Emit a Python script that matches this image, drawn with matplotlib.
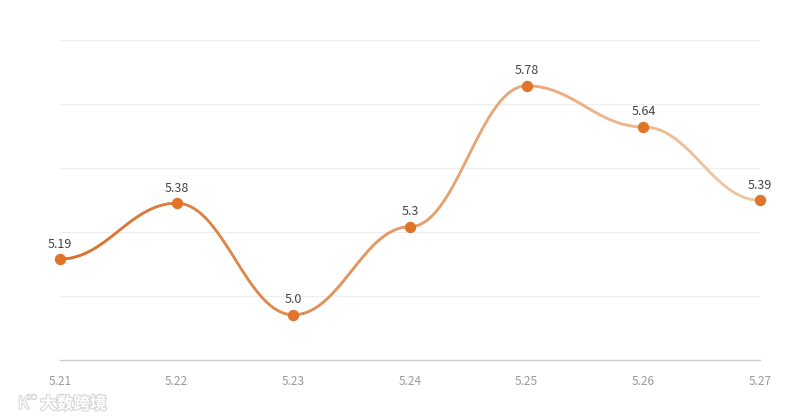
import numpy as np
import matplotlib
matplotlib.use("Agg")
import matplotlib.pyplot as plt
from matplotlib.collections import LineCollection
from matplotlib.patches import Ellipse
import matplotlib.patheffects as pe

plt.rcParams['font.family'] = ['Noto Sans CJK SC', 'DejaVu Sans']

categories = ["5.21", "5.22", "5.23", "5.24", "5.25", "5.26", "5.27"]
values = [5.19, 5.38, 5.0, 5.3, 5.78, 5.64, 5.39]
labels = ["5.19", "5.38", "5.0", "5.3", "5.78", "5.64", "5.39"]

W, H = 800, 420
fig = plt.figure(figsize=(8, 4.2), dpi=100)
L, R, T, B = 60, 760, 40, 360
ax = fig.add_axes([L / W, (H - B) / H, (R - L) / W, (B - T) / H])
ymin, ymax = 4.846, 5.936
ax.set_xlim(0, len(categories) - 1)
ax.set_ylim(ymin, ymax)

# smooth curve, horizontal tangents at the points (monotone-x style)
x = np.arange(len(values), dtype=float)
y = np.array(values, dtype=float)
smooth = 0.4
n = len(x)
curve = []
t = np.linspace(0, 1, 100)
for i in range(n - 1):
    dx = x[i + 1] - x[i]
    p0 = np.array([x[i], y[i]])
    c1 = np.array([x[i] + dx * smooth, y[i]])
    c2 = np.array([x[i + 1] - dx * smooth, y[i + 1]])
    p3 = np.array([x[i + 1], y[i + 1]])
    seg = ((1 - t)[:, None] ** 3 * p0 + 3 * ((1 - t) ** 2 * t)[:, None] * c1
           + 3 * ((1 - t) * t ** 2)[:, None] * c2 + (t ** 3)[:, None] * p3)
    if i > 0:
        seg = seg[1:]
    curve.append(seg)
curve = np.vstack(curve)
cx = curve[:, 0]
cy = curve[:, 1]

pts = np.column_stack([cx, cy]).reshape(-1, 1, 2)
segs = np.concatenate([pts[:-1], pts[1:]], axis=1)
c0 = np.array([218, 112, 42]) / 255
c1 = np.array([242, 200, 166]) / 255
f = (cx[:-1] + cx[1:]) / 2 / (len(values) - 1)
cols = c0[None, :] * (1 - f[:, None]) + c1[None, :] * f[:, None]
lc = LineCollection(segs, colors=cols, linewidths=1.9, capstyle='round', joinstyle='round', zorder=3)
ax.add_collection(lc)

ax.plot(x, y, linestyle='none', marker='o', markersize=7.2, color='#e0742a', zorder=4, clip_on=False)

for xi, yi, lab in zip(x, y, labels):
    ax.annotate(lab, (xi, yi), xytext=(0, 15), textcoords='offset pixels',
                ha='center', va='center', fontsize=9, color='#444444', zorder=5)

for k in range(1, 6):
    gy = ymin + k * (ymax - ymin) / 5
    ax.axhline(gy, color='#eeeeee', linewidth=0.8, zorder=1)

for s in ['top', 'right', 'left']:
    ax.spines[s].set_visible(False)
ax.spines['bottom'].set_color('#cccccc')
ax.spines['bottom'].set_linewidth(1.0)
ax.set_yticks([])
ax.set_xticks(x)
ax.set_xticklabels(categories, fontsize=8.5, color='#999999')
ax.tick_params(axis='x', length=0, pad=11)

# watermark
fig.text(40 / W, 1 - 404 / H, "大数跨境", fontsize=12, color='white', ha='left', va='center',
         path_effects=[pe.withStroke(linewidth=1.6, foreground='#d6d6d6')], fontweight='bold')
fig.text(18 / W, 1 - 404 / H, "К", fontsize=12, color='white', ha='left', va='center',
         path_effects=[pe.withStroke(linewidth=1.6, foreground='#d6d6d6')])
for ex in (29, 34):
    fig.add_artist(Ellipse((ex / W, 1 - 397 / H), 5 / W, 5 / H, transform=fig.transFigure,
                           facecolor='white', edgecolor='#d6d6d6', linewidth=1.0))

fig.savefig("out.png", dpi=100)
